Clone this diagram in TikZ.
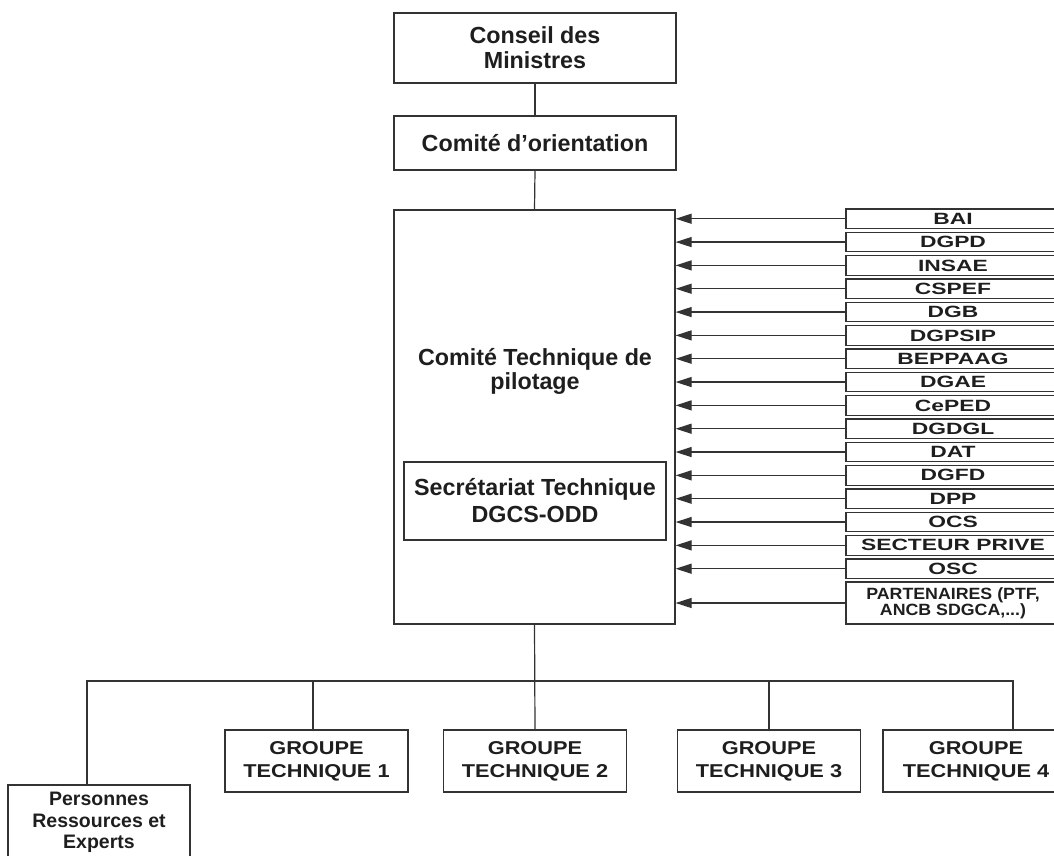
\documentclass[tikz,border=0pt]{standalone}
\usepackage{fontspec}
\setmainfont{Liberation Sans}
\newfontfamily\listfont[FakeStretch=1.4]{Liberation Sans}
\newfontfamily\partfont[FakeStretch=1.09]{Liberation Sans}
\newfontfamily\gtfont[FakeStretch=1.17]{Liberation Sans}
\usetikzlibrary{arrows.meta}
\definecolor{linec}{HTML}{333333}
\definecolor{txtc}{HTML}{1E1E1E}
\tikzset{
  box/.style={draw=linec, line width=1.2pt, inner sep=0pt, align=center, text=txtc},
  bigtxt/.style={font=\bfseries\fontsize{23.3}{25}\selectfont},
  listbox/.style={box, minimum width=214pt, minimum height=19.5pt, font=\listfont\bfseries\fontsize{16.3}{16}\selectfont},
  gtbox/.style={box, minimum width=183pt, minimum height=62pt, font=\gtfont\bfseries\fontsize{18.6}{23}\selectfont},
  conn/.style={draw=linec, line width=1.2pt},
  arr/.style={draw=linec, line width=1.2pt, -{Triangle[length=16pt,width=10pt]}},
}
\begin{document}
\begin{tikzpicture}[x=1pt,y=-1pt]
\useasboundingbox (0,0) rectangle (1054,856);
\begin{scope}
\clip (0,0) rectangle (1054,856);
% top boxes
\node[box, bigtxt, minimum width=282pt, minimum height=70pt] (conseil) at (535,48) {Conseil des\\Ministres};
\node[box, bigtxt, minimum width=282pt, minimum height=54pt] (orient) at (535,143) {Comité d’orientation};
% main box
\node[box, minimum width=281pt, minimum height=414pt] (main) at (534.5,417) {};
\node[text=txtc, align=center, font=\bfseries\fontsize{23.3}{24}\selectfont] (maintxt) at (535,371) {Comité Technique de\\pilotage};
\node[box, font=\bfseries\fontsize{23.3}{27}\selectfont, minimum width=262pt, minimum height=78pt] (sec) at (535,501) {Secrétariat Technique\\DGCS-ODD};
% list boxes
\foreach \t [count=\i from 0] in {BAI,DGPD,INSAE,CSPEF,DGB,DGPSIP,BEPPAAG,DGAE,CePED,DGDGL,DAT,DGFD,DPP,OCS,SECTEUR PRIVE,OSC}{
  \node[listbox] (l\i) at (953,{218.75+23.33*\i}) {\t};
  \draw[arr] (l\i.west) -- (main.east |- l\i.west);
}
\node[listbox, minimum height=42pt, font=\partfont\bfseries\fontsize{16.3}{16}\selectfont] (l16) at (953,603) {PARTENAIRES (PTF,\\ANCB SDGCA,...)};
\draw[arr] (l16.west) -- (main.east |- l16.west);
% bottom boxes
\node[gtbox] (gt1) at (316.5,761) {GROUPE\\TECHNIQUE 1};
\node[gtbox] (gt2) at (535,761) {GROUPE\\TECHNIQUE 2};
\node[gtbox] (gt3) at (769,761) {GROUPE\\TECHNIQUE 3};
\node[gtbox, minimum width=186pt] (gt4) at (976,761) {GROUPE\\TECHNIQUE 4};
\node[box, minimum width=182pt, minimum height=75pt, font=\bfseries\fontsize{19.5}{21.5}\selectfont] (pers) at (99,822.5) {Personnes\\Ressources et\\Experts};
% connectors
\coordinate (bus) at (0,681);
\draw[conn] (conseil.south) -- (orient.north);
\draw[conn] (orient.south) -- (main.north);
\draw[conn] (main.south) -- (gt2.north);
\draw[conn] ([xshift=-12pt]pers.north) -- ([xshift=-12pt]pers.north |- bus) -- ([xshift=37pt]gt4.north |- bus) -- ([xshift=37pt]gt4.north);
\draw[conn] ([xshift=-3.5pt]gt1.north) -- ([xshift=-3.5pt]gt1.north |- bus);
\draw[conn] (gt3.north) -- (gt3.north |- bus);
\end{scope}
\end{tikzpicture}
\end{document}
